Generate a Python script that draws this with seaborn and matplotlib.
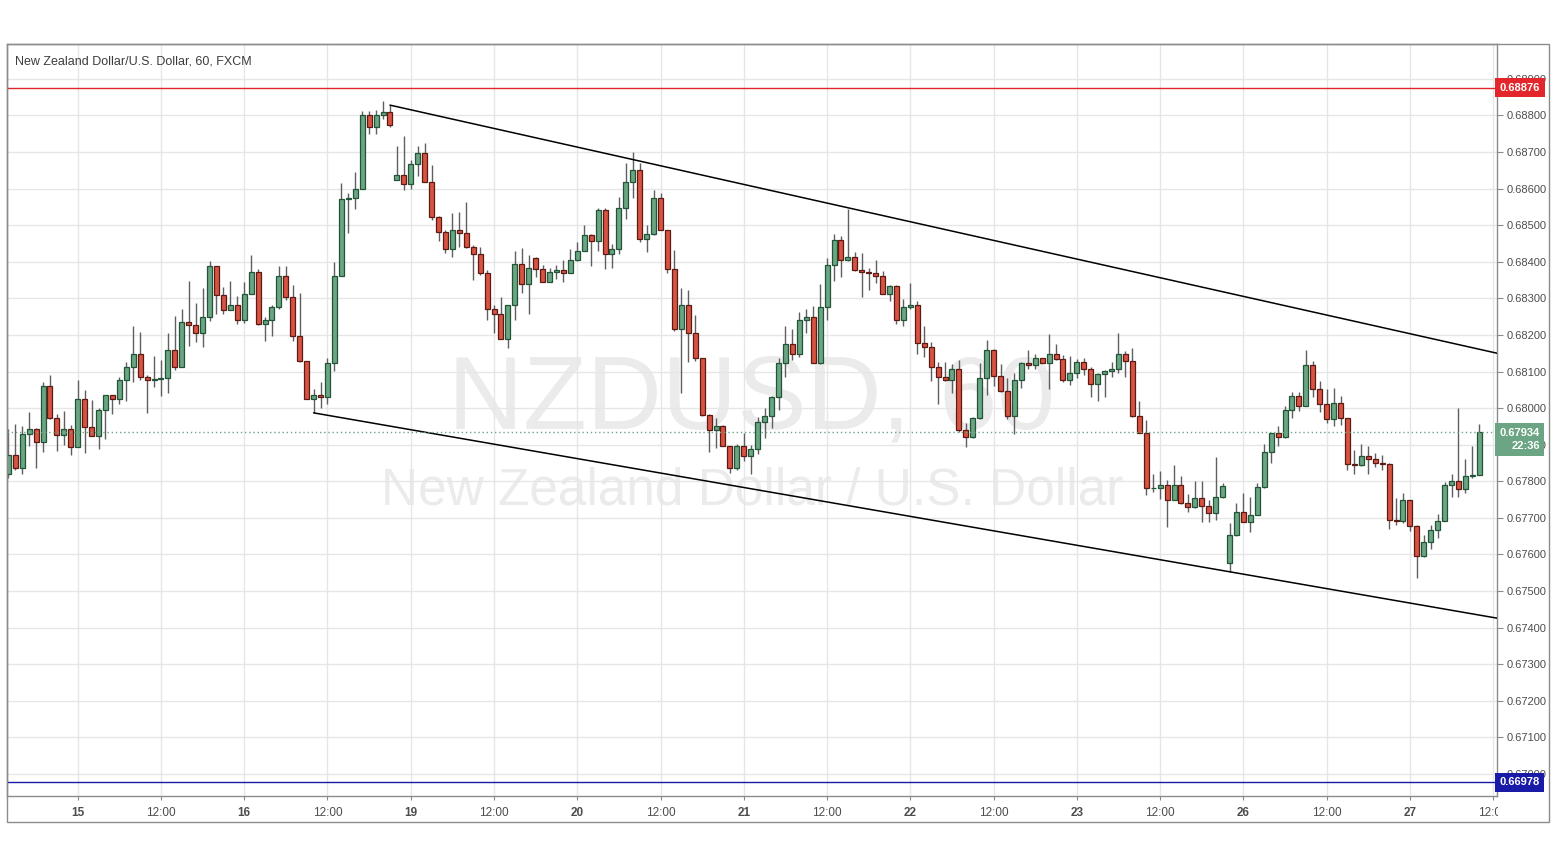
import numpy as np
import pandas as pd
import matplotlib
matplotlib.use("Agg")
import matplotlib.pyplot as plt
import matplotlib.transforms as mtransforms
from matplotlib.patches import Rectangle
from matplotlib.ticker import MultipleLocator, FormatStrFormatter
import seaborn as sns

# NZDUSD hourly candles, 14th 14:00 -> 27th 10:00 (weekend hours skipped)
opens = [
    0.67819, 0.67873, 0.67837, 0.67928, 0.67944, 0.67908, 0.68060, 0.67972, 0.67926, 0.67942,
    0.67894, 0.68024, 0.67949, 0.67925, 0.67995, 0.68035, 0.68026, 0.68078, 0.68113, 0.68149,
    0.68084, 0.68078, 0.68079, 0.68081, 0.68160, 0.68113, 0.68234, 0.68226, 0.68206, 0.68248,
    0.68387, 0.68308, 0.68267, 0.68283, 0.68242, 0.68313, 0.68373, 0.68229, 0.68240, 0.68275,
    0.68361, 0.68304, 0.68198, 0.68128, 0.68024, 0.68037, 0.68031, 0.68122, 0.68362, 0.68571,
    0.68573, 0.68600, 0.68801, 0.68767, 0.68801, 0.68810, 0.68622, 0.68638, 0.68613, 0.68666,
    0.68696, 0.68617, 0.68523, 0.68482, 0.68434, 0.68488, 0.68479, 0.68439, 0.68420, 0.68368,
    0.68270, 0.68256, 0.68188, 0.68281, 0.68395, 0.68338, 0.68409, 0.68379, 0.68345, 0.68371,
    0.68377, 0.68368, 0.68406, 0.68429, 0.68472, 0.68456, 0.68541, 0.68420, 0.68436, 0.68546,
    0.68617, 0.68652, 0.68461, 0.68477, 0.68573, 0.68486, 0.68379, 0.68215, 0.68281, 0.68204,
    0.68138, 0.67981, 0.67940, 0.67951, 0.67896, 0.67835, 0.67897, 0.67869, 0.67887, 0.67963,
    0.67978, 0.68031, 0.68122, 0.68174, 0.68147, 0.68240, 0.68248, 0.68124, 0.68275, 0.68390,
    0.68459, 0.68406, 0.68413, 0.68377, 0.68371, 0.68370, 0.68360, 0.68313, 0.68335, 0.68240,
    0.68275, 0.68281, 0.68179, 0.68168, 0.68111, 0.68084, 0.68076, 0.68107, 0.67939, 0.67920,
    0.67972, 0.68081, 0.68160, 0.68088, 0.68048, 0.67979, 0.68078, 0.68122, 0.68117, 0.68136,
    0.68124, 0.68149, 0.68133, 0.68078, 0.68095, 0.68127, 0.68108, 0.68067, 0.68093, 0.68101,
    0.68108, 0.68148, 0.68130, 0.67979, 0.67931, 0.67781, 0.67783, 0.67790, 0.67750, 0.67791,
    0.67740, 0.67729, 0.67755, 0.67732, 0.67714, 0.67756, 0.67577, 0.67653, 0.67717, 0.67689,
    0.67709, 0.67785, 0.67879, 0.67931, 0.67920, 0.67996, 0.68034, 0.68006, 0.68119, 0.68051,
    0.68010, 0.67969, 0.68013, 0.67972, 0.67846, 0.67845, 0.67869, 0.67860, 0.67849, 0.67848,
    0.67694, 0.67691, 0.67749, 0.67679, 0.67596, 0.67633, 0.67667, 0.67691, 0.67790, 0.67801,
    0.67778, 0.67814, 0.67816,
]
highs = [
    0.67944, 0.67956, 0.67951, 0.67988, 0.67947, 0.68072, 0.68090, 0.67984, 0.67992, 0.67955,
    0.68077, 0.68049, 0.68022, 0.67999, 0.68035, 0.68037, 0.68086, 0.68125, 0.68224, 0.68208,
    0.68090, 0.68142, 0.68131, 0.68204, 0.68251, 0.68270, 0.68347, 0.68288, 0.68329, 0.68401,
    0.68389, 0.68332, 0.68347, 0.68306, 0.68345, 0.68418, 0.68379, 0.68250, 0.68281, 0.68389,
    0.68388, 0.68336, 0.68315, 0.68129, 0.68052, 0.68070, 0.68138, 0.68400, 0.68616, 0.68588,
    0.68646, 0.68812, 0.68811, 0.68816, 0.68839, 0.68828, 0.68717, 0.68743, 0.68679, 0.68716,
    0.68725, 0.68664, 0.68525, 0.68486, 0.68532, 0.68535, 0.68564, 0.68445, 0.68441, 0.68377,
    0.68283, 0.68304, 0.68281, 0.68430, 0.68438, 0.68418, 0.68412, 0.68391, 0.68384, 0.68391,
    0.68404, 0.68436, 0.68454, 0.68500, 0.68477, 0.68546, 0.68546, 0.68448, 0.68576, 0.68670,
    0.68699, 0.68670, 0.68500, 0.68596, 0.68588, 0.68488, 0.68432, 0.68327, 0.68324, 0.68254,
    0.68138, 0.67985, 0.67974, 0.67954, 0.67896, 0.67901, 0.67931, 0.67899, 0.67976, 0.67999,
    0.68033, 0.68136, 0.68224, 0.68215, 0.68263, 0.68272, 0.68279, 0.68339, 0.68411, 0.68475,
    0.68471, 0.68544, 0.68427, 0.68423, 0.68384, 0.68404, 0.68375, 0.68337, 0.68337, 0.68297,
    0.68343, 0.68293, 0.68224, 0.68181, 0.68127, 0.68127, 0.68120, 0.68131, 0.67960, 0.67976,
    0.68124, 0.68186, 0.68162, 0.68120, 0.68083, 0.68097, 0.68127, 0.68160, 0.68149, 0.68138,
    0.68202, 0.68175, 0.68145, 0.68142, 0.68133, 0.68138, 0.68113, 0.68095, 0.68104, 0.68127,
    0.68206, 0.68157, 0.68163, 0.68019, 0.67967, 0.67819, 0.67828, 0.67803, 0.67844, 0.67814,
    0.67765, 0.67801, 0.67801, 0.67750, 0.67867, 0.67794, 0.67687, 0.67740, 0.67767, 0.67756,
    0.67794, 0.67902, 0.67933, 0.67951, 0.68005, 0.68043, 0.68045, 0.68160, 0.68128, 0.68074,
    0.68052, 0.68054, 0.68033, 0.67974, 0.67885, 0.67902, 0.67896, 0.67878, 0.67872, 0.67851,
    0.67753, 0.67767, 0.67750, 0.67680, 0.67653, 0.67680, 0.67710, 0.67799, 0.67821, 0.67999,
    0.67862, 0.67896, 0.67956,
]
lows = [
    0.67808, 0.67832, 0.67821, 0.67896, 0.67837, 0.67881, 0.67969, 0.67883, 0.67899, 0.67873,
    0.67893, 0.67878, 0.67925, 0.67888, 0.67916, 0.67984, 0.68011, 0.68020, 0.68072, 0.68078,
    0.67987, 0.68058, 0.68033, 0.68042, 0.68104, 0.68113, 0.68169, 0.68181, 0.68168, 0.68239,
    0.68256, 0.68256, 0.68267, 0.68231, 0.68233, 0.68313, 0.68227, 0.68183, 0.68198, 0.68272,
    0.68295, 0.68183, 0.68127, 0.68024, 0.67987, 0.67999, 0.68010, 0.68101, 0.68362, 0.68479,
    0.68544, 0.68600, 0.68748, 0.68750, 0.68789, 0.68767, 0.68622, 0.68595, 0.68599, 0.68634,
    0.68617, 0.68515, 0.68457, 0.68424, 0.68413, 0.68441, 0.68438, 0.68350, 0.68363, 0.68242,
    0.68204, 0.68188, 0.68163, 0.68242, 0.68315, 0.68256, 0.68357, 0.68345, 0.68345, 0.68353,
    0.68345, 0.68368, 0.68403, 0.68429, 0.68389, 0.68429, 0.68379, 0.68383, 0.68420, 0.68518,
    0.68573, 0.68454, 0.68427, 0.68474, 0.68486, 0.68368, 0.68211, 0.68040, 0.68127, 0.68129,
    0.67978, 0.67881, 0.67890, 0.67896, 0.67823, 0.67832, 0.67856, 0.67820, 0.67874, 0.67917,
    0.67947, 0.67996, 0.68084, 0.68131, 0.68140, 0.68204, 0.68122, 0.68120, 0.68240, 0.68347,
    0.68359, 0.68402, 0.68375, 0.68304, 0.68324, 0.68343, 0.68311, 0.68293, 0.68230, 0.68225,
    0.68272, 0.68148, 0.68140, 0.68075, 0.68011, 0.68075, 0.68042, 0.67935, 0.67893, 0.67918,
    0.67970, 0.68036, 0.68061, 0.68045, 0.67970, 0.67929, 0.68054, 0.68106, 0.68106, 0.68122,
    0.68051, 0.68131, 0.68072, 0.68063, 0.68081, 0.68090, 0.68029, 0.68020, 0.68031, 0.68086,
    0.68097, 0.68086, 0.67976, 0.67931, 0.67762, 0.67771, 0.67751, 0.67674, 0.67749, 0.67738,
    0.67715, 0.67726, 0.67689, 0.67689, 0.67694, 0.67753, 0.67551, 0.67650, 0.67688, 0.67662,
    0.67709, 0.67783, 0.67851, 0.67896, 0.67918, 0.67974, 0.67993, 0.68006, 0.68031, 0.67990,
    0.67960, 0.67951, 0.67954, 0.67832, 0.67819, 0.67842, 0.67821, 0.67840, 0.67832, 0.67671,
    0.67680, 0.67687, 0.67665, 0.67535, 0.67592, 0.67614, 0.67644, 0.67691, 0.67756, 0.67758,
    0.67767, 0.67808, 0.67816,
]
closes = [
    0.67873, 0.67837, 0.67928, 0.67944, 0.67908, 0.68060, 0.67972, 0.67926, 0.67942, 0.67894,
    0.68024, 0.67949, 0.67925, 0.67995, 0.68035, 0.68026, 0.68078, 0.68113, 0.68149, 0.68084,
    0.68078, 0.68079, 0.68081, 0.68160, 0.68113, 0.68234, 0.68226, 0.68206, 0.68248, 0.68387,
    0.68308, 0.68267, 0.68283, 0.68242, 0.68313, 0.68373, 0.68229, 0.68240, 0.68275, 0.68361,
    0.68304, 0.68198, 0.68128, 0.68024, 0.68037, 0.68031, 0.68122, 0.68362, 0.68571, 0.68573,
    0.68600, 0.68801, 0.68767, 0.68801, 0.68810, 0.68775, 0.68638, 0.68613, 0.68666, 0.68696,
    0.68617, 0.68523, 0.68482, 0.68434, 0.68488, 0.68479, 0.68439, 0.68420, 0.68368, 0.68270,
    0.68256, 0.68188, 0.68281, 0.68395, 0.68338, 0.68383, 0.68379, 0.68345, 0.68371, 0.68377,
    0.68368, 0.68406, 0.68429, 0.68472, 0.68456, 0.68541, 0.68420, 0.68436, 0.68546, 0.68617,
    0.68652, 0.68461, 0.68477, 0.68573, 0.68486, 0.68379, 0.68215, 0.68281, 0.68204, 0.68138,
    0.67981, 0.67940, 0.67951, 0.67896, 0.67835, 0.67897, 0.67869, 0.67887, 0.67963, 0.67978,
    0.68031, 0.68122, 0.68174, 0.68147, 0.68240, 0.68248, 0.68124, 0.68275, 0.68390, 0.68459,
    0.68406, 0.68413, 0.68377, 0.68371, 0.68370, 0.68360, 0.68313, 0.68335, 0.68240, 0.68275,
    0.68281, 0.68179, 0.68168, 0.68111, 0.68084, 0.68076, 0.68107, 0.67939, 0.67920, 0.67972,
    0.68081, 0.68160, 0.68088, 0.68048, 0.67979, 0.68078, 0.68122, 0.68117, 0.68136, 0.68124,
    0.68149, 0.68133, 0.68078, 0.68095, 0.68127, 0.68108, 0.68067, 0.68093, 0.68101, 0.68108,
    0.68148, 0.68130, 0.67979, 0.67931, 0.67781, 0.67783, 0.67790, 0.67750, 0.67791, 0.67740,
    0.67729, 0.67755, 0.67732, 0.67714, 0.67756, 0.67787, 0.67653, 0.67717, 0.67689, 0.67709,
    0.67785, 0.67879, 0.67931, 0.67920, 0.67996, 0.68034, 0.68006, 0.68119, 0.68051, 0.68010,
    0.67969, 0.68013, 0.67972, 0.67846, 0.67845, 0.67869, 0.67860, 0.67849, 0.67848, 0.67694,
    0.67691, 0.67749, 0.67679, 0.67596, 0.67633, 0.67667, 0.67691, 0.67790, 0.67801, 0.67778,
    0.67814, 0.67816, 0.67934,
]

# time axis (candle index of each label)
tick_pos = [10, 22, 34, 46, 58, 70, 82, 94, 106, 118, 130, 142, 154, 166, 178, 190, 202, 214]
tick_labels = ['15', '12:00', '16', '12:00', '19', '12:00', '20', '12:00', '21', '12:00',
               '22', '12:00', '23', '12:00', '26', '12:00', '27', '12:00']

# channel trend lines (anchor candle index, price)
upper_x = [55, 214.55]
upper_y = [0.68828, 0.68150]
lower_x = [44, 214.55]
lower_y = [0.67987, 0.67426]

resistance = 0.68876
support = 0.66978
last_price = 0.67934
countdown = '22:36'

W, H = 1556, 859
UP, UP_EDGE = '#6ba583', '#225437'
DOWN, DOWN_EDGE = '#d75442', '#5b1a13'

sns.set_style('white')
plt.rcParams['font.family'] = ['Liberation Sans', 'DejaVu Sans']

df = pd.DataFrame({'open': opens, 'high': highs, 'low': lows, 'close': closes})
df['x'] = np.arange(len(df))
df['up'] = df['close'] >= df['open']
df['bottom'] = df[['open', 'close']].min(axis=1)
df['body'] = (df['close'] - df['open']).abs().clip(lower=0.000015)

fig = plt.figure(figsize=(W / 100, H / 100), dpi=100)
ax = fig.add_axes([7 / W, (H - 796) / H, (1497 - 7) / W, (796 - 44) / H])

ax.set_xlim(-0.19, 214.55)
ax.set_ylim(0.66940, 0.68995)

# grid
ax.yaxis.set_major_locator(MultipleLocator(0.001))
ax.yaxis.set_major_formatter(FormatStrFormatter('%.5f'))
ax.set_xticks(tick_pos)
ax.set_xticklabels(tick_labels)
ax.grid(True, color='#e6e6e6', lw=1, zorder=0)
ax.set_axisbelow(True)

# watermark
ax.text(0.5, 0.524, 'NZDUSD, 60', transform=ax.transAxes, ha='center', va='center',
        fontsize=75, color='#ebebeb', zorder=0.5)
ax.text(0.5, 0.406, 'New Zealand Dollar / U.S. Dollar', transform=ax.transAxes,
        ha='center', va='center', fontsize=37, color='#ebebeb', zorder=0.5)

# candles
ax.vlines(df['x'], df['low'], df['high'], color='#5f5f61', lw=1, zorder=2)
ax.bar(df['x'], df['body'], bottom=df['bottom'], width=0.72,
       color=np.where(df['up'], UP, DOWN), edgecolor=np.where(df['up'], UP_EDGE, DOWN_EDGE),
       linewidth=0.9, zorder=3)

# channel
sns.lineplot(x=upper_x, y=upper_y, color='black', lw=1.1, ax=ax, zorder=4)
sns.lineplot(x=lower_x, y=lower_y, color='black', lw=1.1, ax=ax, zorder=4)

# horizontal levels
ax.axhline(resistance, color='#e3262b', lw=1, zorder=4)
ax.axhline(support, color='#1a1aa8', lw=1, zorder=4)
ax.axhline(last_price, color=UP, lw=1, ls=(0, (1, 2)), zorder=4)

# axes styling
ax.yaxis.tick_right()
ax.tick_params(axis='y', labelsize=8, labelcolor='#4d4d4d', length=4, width=0.8,
               color='#8a8a8a', pad=3, right=True, left=False)
ax.tick_params(axis='x', labelsize=8.5, labelcolor='#4d4d4d', length=3, width=0.8,
               color='#8a8a8a', pad=5, bottom=True)
for lbl in ax.get_xticklabels():
    if ':' not in lbl.get_text():
        lbl.set_fontweight('bold')
for side in ['left', 'top', 'right', 'bottom']:
    ax.spines[side].set_color('#8c8c8c')
    ax.spines[side].set_linewidth(1)
ax.set_xlabel('')
ax.set_ylabel('')

# price scale labels
trans = mtransforms.blended_transform_factory(ax.transAxes, ax.transData)
box_kw = dict(transform=trans, ha='left', fontsize=8, fontweight='bold', color='white',
              zorder=10, clip_on=False)
ax.text(1.0018, resistance, f'{resistance:.5f}', va='center',
        bbox=dict(boxstyle='square,pad=0.4', fc='#e3262b', ec='none'), **box_kw)
ax.text(1.0018, support, f'{support:.5f}', va='center',
        bbox=dict(boxstyle='square,pad=0.4', fc='#1a1aa8', ec='none'), **box_kw)
ax.text(1.0018, last_price + 0.00012, f'{last_price:.5f}\n{countdown}', va='top',
        multialignment='right', linespacing=1.45,
        bbox=dict(boxstyle='square,pad=0.4', fc=UP, ec='none'), **box_kw)

# cut the last time label at the price scale
fig.add_artist(Rectangle((1498 / W, (H - 821) / H), 50 / W, 24 / H, transform=fig.transFigure,
                         fc='white', ec='none', zorder=5))
# outer frame
fig.add_artist(Rectangle((7 / W, (H - 822) / H), 1542 / W, 778 / H, transform=fig.transFigure,
                         fill=False, ec='#8c8c8c', lw=1, zorder=6))

fig.text(15 / W, 1 - 61 / H, 'New Zealand Dollar/U.S. Dollar, 60, FXCM', ha='left',
         va='center', fontsize=9, color='#3c3c3c')

fig.savefig('out.png', dpi=100, facecolor='white')
